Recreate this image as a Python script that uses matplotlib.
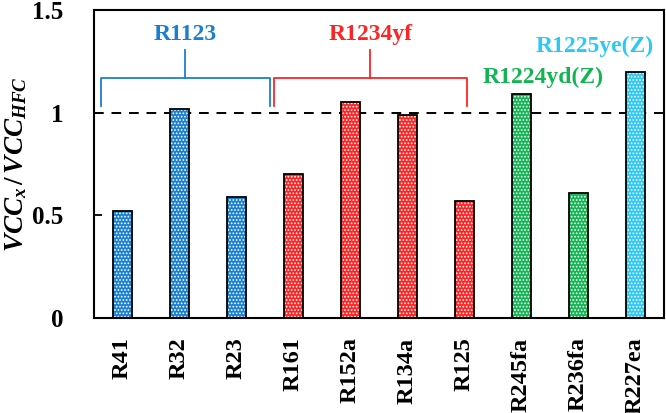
import numpy as np
import matplotlib
matplotlib.use('Agg')
import matplotlib.pyplot as plt

refrigerants = ['R41', 'R32', 'R23', 'R161', 'R152a', 'R134a', 'R125',
                'R245fa', 'R236fa', 'R227ea']
vcc_ratio = [0.52, 1.02, 0.59, 0.70, 1.05, 0.99, 0.57, 1.09, 0.61, 1.20]
groups = ['blue', 'blue', 'blue', 'red', 'red', 'red', 'red',
          'green', 'green', 'cyan']
group_colors = {'blue': '#1b7fd1', 'red': '#ff2424', 'green': '#12b552', 'cyan': '#2ec8f5'}

plt.rcParams['font.family'] = 'Liberation Serif'
plt.rcParams['mathtext.fontset'] = 'custom'
plt.rcParams['mathtext.it'] = 'Liberation Serif:italic:bold'
plt.rcParams['mathtext.rm'] = 'Liberation Serif:bold'
plt.rcParams['hatch.linewidth'] = 0.8

fig = plt.figure(figsize=(6.66, 4.13), dpi=100)
ax = fig.add_axes([0.141, 0.23, 0.856, 0.746])

x = np.arange(len(refrigerants))
colors = [group_colors[g] for g in groups]
# fill with white dotted hatch, then black outline on top
ax.bar(x, vcc_ratio, width=0.32, color=colors, edgecolor='white', linewidth=0,
       hatch='.....', zorder=2)
ax.bar(x, vcc_ratio, width=0.32, fill=False, edgecolor='black', linewidth=1.3, zorder=3)

ax.axhline(1.0, color='black', linestyle=(0, (5, 4)), linewidth=1.4, zorder=1)

# group brackets
def bracket(x0, x1, color, label):
    xc = (x0 + x1) / 2
    ax.plot([x0, x0, x1, x1], [1.03, 1.17, 1.17, 1.03], color=color, lw=1.3, zorder=4)
    ax.plot([xc, xc], [1.17, 1.305], color=color, lw=1.3, zorder=4)
    ax.text(xc, 1.38, label, color=color, ha='center', va='center',
            fontsize=17, fontweight='bold')

bracket(-0.38, 2.59, '#1b7fd1', 'R1123')
bracket(2.66, 6.04, '#ff2424', 'R1234yf')
ax.text(7.38, 1.17, 'R1224yd(Z)', color='#12b552', ha='center', va='center',
        fontsize=17, fontweight='bold')
ax.text(8.29, 1.32, 'R1225ye(Z)', color='#2ec8f5', ha='center', va='center',
        fontsize=17, fontweight='bold')

ax.set_xlim(-0.5, 9.5)
ax.set_ylim(0, 1.5)
ax.set_yticks([0, 0.5, 1, 1.5])
ax.set_yticklabels(['0', '0.5', '1', '1.5'], fontsize=18, fontweight='bold')
ax.set_xticks(x)
ax.set_xticklabels(refrigerants, rotation=90, fontsize=17.5, fontweight='bold')
ax.tick_params(axis='y', direction='in', length=6, width=1.3, pad=22)
ax.tick_params(axis='x', length=0, pad=14)
for s in ax.spines.values():
    s.set_linewidth(1.5)
ax.set_ylabel(r'$VCC_x\,/\,VCC_{HFC}$', fontsize=19.5, labelpad=2)

fig.savefig('out.png', dpi=100)
plt.close(fig)
